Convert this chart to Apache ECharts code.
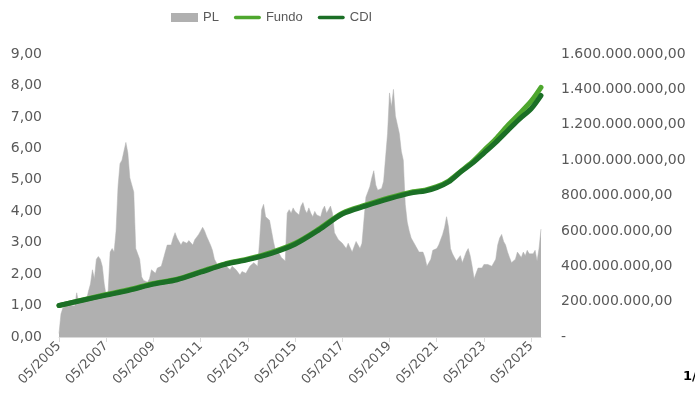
<!DOCTYPE html>
<html>
<head>
<meta charset="utf-8">
<script src="https://cdn.jsdelivr.net/npm/echarts@6/dist/echarts.min.js"></script>
<style>
  html, body { margin: 0; padding: 0; background: #fff; }
  #chart { width: 695px; height: 403px; }
</style>
</head>
<body>
<div id="chart"></div>
<script>
// meses de 05/2005 a 10/2025
const months = [];
for (let y = 2005, m = 5; y < 2025 || (y === 2025 && m <= 10); m++) {
  if (m > 12) { m = 1; y++; }
  months.push((m < 10 ? '0' + m : '' + m) + '/' + y);
}

// PL em milhões, um valor por mês
const plValues = [
  20,130,165,170,175,172,180,185,175,250,
  190,195,200,205,210,260,300,380,330,440,
  455,440,400,300,230,260,480,500,480,600,
  850,980,1000,1050,1100,1040,900,860,820,500,
  470,440,340,320,320,310,330,380,380,360,
  390,390,400,440,480,520,510,520,560,590,
  560,540,520,540,550,530,545,540,520,550,
  560,580,600,620,600,570,560,520,490,440,
  420,400,410,400,390,400,390,380,400,395,
  380,370,350,370,380,360,380,400,410,420,
  420,400,550,720,750,680,670,660,600,540,
  490,480,470,450,440,430,700,720,700,730,
  710,720,690,740,760,720,700,730,700,680,
  710,690,700,680,720,740,700,720,740,700,
  590,580,550,540,530,520,500,530,520,480,
  490,540,540,500,530,540,790,820,850,900,
  940,860,830,820,840,880,870,1150,1380,1300,
  1400,1250,1200,1150,1050,1000,750,650,600,560,
  540,520,510,480,490,480,450,400,390,440,
  490,480,500,520,510,580,620,680,620,500,
  470,450,430,440,460,420,450,480,500,460,
  400,330,360,390,400,390,410,400,410,420,
  400,410,440,520,560,580,540,520,480,450,
  420,410,440,480,470,450,480,460,490,470,
  480,470,490,430,500,610
];

// cotas (base 1,00)
const lineMonths = [
  '05/2005','05/2006','05/2007','05/2008','05/2009','05/2010','05/2011','05/2012',
  '05/2013','05/2014','05/2015','05/2016','05/2017','05/2018','05/2019','05/2020',
  '11/2020','05/2021','11/2021','05/2022','11/2022','05/2023','11/2023','05/2024',
  '11/2024','05/2025','10/2025'
];
const fundoValues = [
  1.00,1.18,1.35,1.51,1.70,1.84,2.08,2.32,2.48,2.69,2.98,3.43,3.94,4.20,4.43,4.62,
  4.67,4.78,4.96,5.26,5.56,5.93,6.30,6.72,7.10,7.50,7.94
];
const cdiValues = [
  1.00,1.17,1.33,1.49,1.68,1.82,2.06,2.30,2.46,2.66,2.95,3.40,3.91,4.17,4.40,4.59,
  4.64,4.75,4.93,5.24,5.52,5.85,6.19,6.56,6.93,7.26,7.68
];

const leftTicks = { min: 0, max: 9, interval: 1 };
const rightTicks = { min: 0, max: 1600000000, interval: 200000000 };

function brNumber(v) {
  if (v === 0) return '-';
  return String(Math.round(v)).replace(/\B(?=(\d{3})+(?!\d))/g, '.') + ',00';
}

// traço grosso com pontas arredondadas para a legenda das linhas
const lineIcon = 'path://M2,0 L30,0 A2,2 0 0 1 30,4 L2,4 A2,2 0 0 1 2,0 Z';

let myChart = echarts.init(document.getElementById('chart'));
myChart.setOption({
  animation: false,
  textStyle: { fontFamily: 'DejaVu Sans' },
  legend: {
    left: 166,
    top: 6,
    itemWidth: 27,
    itemHeight: 9,
    itemGap: 15,
    textStyle: { color: '#595959', fontSize: 13, fontFamily: 'Liberation Sans Narrow, Liberation Sans' },
    data: [
      { name: 'PL', icon: 'rect' },
      { name: 'Fundo', icon: lineIcon },
      { name: 'CDI', icon: lineIcon }
    ]
  },
  grid: { left: 59, right: 154, top: 54, bottom: 66 },
  xAxis: {
    type: 'category',
    boundaryGap: false,
    data: months,
    axisLine: { lineStyle: { color: '#d9d9d9' } },
    axisTick: { interval: 23, length: 5, lineStyle: { color: '#d9d9d9' } },
    axisLabel: {
      interval: 23,
      rotate: 45,
      color: '#595959',
      fontSize: 13,
      margin: 7
    }
  },
  yAxis: [
    {
      type: 'value',
      min: leftTicks.min,
      max: leftTicks.max,
      interval: leftTicks.interval,
      splitLine: { show: false },
      axisLine: { show: false },
      axisTick: { show: false },
      axisLabel: {
        color: '#595959',
        fontSize: 14,
        margin: 17,
        formatter: function (v) { return v.toFixed(2).replace('.', ','); }
      }
    },
    {
      type: 'value',
      min: rightTicks.min,
      max: rightTicks.max,
      interval: rightTicks.interval,
      splitLine: { show: false },
      axisLine: { show: false },
      axisTick: { show: false },
      axisLabel: {
        color: '#595959',
        fontSize: 14,
        margin: 20,
        formatter: brNumber
      }
    }
  ],
  graphic: [{
    type: 'text',
    left: 683,
    top: 370,
    style: { text: '1/', fill: '#000', font: 'bold 13px DejaVu Sans' }
  }],
  series: [
    {
      name: 'PL',
      type: 'line',
      yAxisIndex: 1,
      symbol: 'none',
      data: plValues.map(function (v) { return v * 1000000; }),
      itemStyle: { color: '#b0b0b0' },
      lineStyle: { width: 0.5, color: '#b0b0b0' },
      areaStyle: { color: '#b0b0b0', opacity: 1 }
    },
    {
      name: 'Fundo',
      type: 'line',
      yAxisIndex: 0,
      symbol: 'none',
      smooth: 0.3,
      data: lineMonths.map(function (m, i) { return [m, fundoValues[i]]; }),
      itemStyle: { color: '#4ea72e' },
      lineStyle: { width: 5, color: '#4ea72e', cap: 'round' }
    },
    {
      name: 'CDI',
      type: 'line',
      yAxisIndex: 0,
      symbol: 'none',
      smooth: 0.3,
      data: lineMonths.map(function (m, i) { return [m, cdiValues[i]]; }),
      itemStyle: { color: '#1b6f26' },
      lineStyle: { width: 5, color: '#1b6f26', cap: 'round' }
    }
  ]
});
</script>
</body>
</html>
